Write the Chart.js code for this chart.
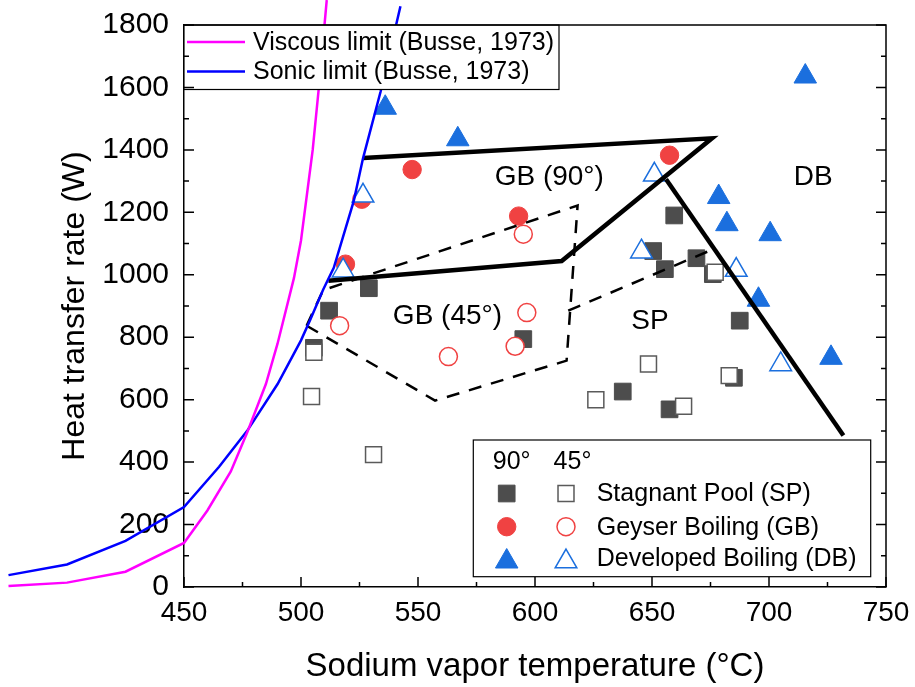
<!DOCTYPE html>
<html><head><meta charset="utf-8">
<script src="https://cdn.jsdelivr.net/npm/chart.js@4.4.1/dist/chart.umd.min.js"></script>
<style>html,body{margin:0;padding:0;background:#fff;}#wrap{width:915px;height:687px;position:relative;}</style>
</head><body><div id="wrap"><canvas id="c" width="915" height="687"></canvas></div>
<script>
// ---- axis ticks ----
const xTicks = [450, 500, 550, 600, 650, 700, 750];
const yTicks = [0, 200, 400, 600, 800, 1000, 1200, 1400, 1600, 1800];

// ---- Busse (1973) limits ----
const viscousT = [375, 400, 425, 450, 460, 470, 477, 485, 490, 497, 500, 505, 507.5, 511];
const viscousQ = [3, 14, 49, 141, 245, 370, 495, 650, 780, 990, 1110, 1400, 1590, 1880];
const sonicT = [375, 400, 425, 450, 465, 477, 490, 500, 504, 509.5, 514, 522.5, 526.5, 534, 542.5];
const sonicQ = [38, 72, 148, 256, 385, 500, 650, 790, 857, 953, 1022, 1235, 1373, 1586, 1860];

// ---- measured points ----
const sp90T = [512, 529, 505.5, 595, 659.5, 650.5, 655.5, 669, 676, 687.5, 685, 637.5, 657.5];
const sp90Q = [885, 957, 766, 794, 1190, 1076, 1018, 1053, 1002, 853, 670, 626, 569];
const sp45T = [505.5, 504.5, 531, 677, 648.5, 683, 626, 663.5];
const sp45Q = [752, 610, 424, 1008, 714, 677, 600, 579];
const gb90T = [547.5, 526, 593, 519, 657.5];
const gb90Q = [1337, 1242, 1188, 1034, 1383];
const gb45T = [595, 596.5, 516.5, 563, 591.5];
const gb45Q = [1130, 879, 837, 738, 771];
const db90T = [536, 567, 715.5, 678.5, 682, 700.5, 695.5, 726.5];
const db90Q = [1535, 1434, 1635, 1249, 1162, 1130, 920, 734];
const db45T = [526.5, 518, 651, 645.5, 686, 705];
const db45Q = [1253, 1013, 1320, 1074, 1015, 713];

// ---- regime boundaries ----
const gb90BoundT = [526.6, 675.6, 611.4, 511.7];
const gb90BoundQ = [1374, 1437, 1044, 981];
const dbBoundT = [656, 731.8];
const dbBoundQ = [1306, 485];
const gb45BoundT = [502.4, 509.5, 618.2, 613.5, 557.3, 502.4];
const gb45BoundQ = [837, 951, 1222, 725, 597, 837];
const spBoundT = [614.2, 676.2];
const spBoundQ = [885, 1082];

// ---- region labels ----
const regionNames = ['GB (90°)', 'DB', 'GB (45°)', 'SP'];
const regionT = [606.1, 718.9, 562.6, 649.1];
const regionQ = [1313, 1311, 866, 850];

const pts = (xs, ys) => xs.map((x, i) => ({x: x, y: ys[i]}));
const FONT = "'Liberation Sans', Arial, sans-serif";
const C_SP = '#4d4d4d', C_SP_O = '#5a5a5a', C_GB = '#f04242', C_DB = '#1b6fde';

function lineDs(label, data, color, width, dash, order) {
  return {label, data, showLine: true, borderColor: color, backgroundColor: color,
    borderWidth: width, borderDash: dash || [], pointRadius: 0, pointHoverRadius: 0, clip: false,
    tension: 0, order: order, borderJoinStyle: 'miter', borderCapStyle: 'butt'};
}
function ptDs(label, xs, ys, style, r, fill, border, bw, order) {
  return {label, data: pts(xs, ys), showLine: false, pointStyle: style, pointRadius: r, pointHoverRadius: r,
    backgroundColor: fill, borderColor: border, pointBorderWidth: bw, borderWidth: bw, order: order, clip: false};
}

// curves run past the left edge of the axes: listed high-to-low so every point is drawn
const datasets = [
  lineDs('Viscous limit (Busse, 1973)', pts(viscousT, viscousQ).reverse(), '#ff00ff', 2.5, null, 1),
  lineDs('Sonic limit (Busse, 1973)', pts(sonicT, sonicQ).reverse(), '#0000ff', 2.5, null, 1),
  lineDs('GB90 boundary', pts(gb90BoundT, gb90BoundQ), '#000', 4.5, null, 2),
  lineDs('DB boundary', pts(dbBoundT, dbBoundQ), '#000', 4.5, null, 2),
  lineDs('GB45 boundary', pts(gb45BoundT, gb45BoundQ), '#000', 2.5, [13, 10], 2),
  lineDs('SP45 boundary', pts(spBoundT, spBoundQ), '#000', 2.5, [13, 10], 2),
  ptDs('SP 90', sp90T, sp90Q, 'rect', 11.8, C_SP, C_SP, 1, 9),
  ptDs('GB 90', gb90T, gb90Q, 'circle', 9.2, C_GB, C_GB, 1, 8),
  ptDs('DB 90', db90T, db90Q, 'triangle', 13, C_DB, C_DB, 1, 7),
  ptDs('SP 45', sp45T, sp45Q, 'rect', 11.3, '#fff', C_SP_O, 1.5, 6),
  ptDs('GB 45', gb45T, gb45Q, 'circle', 9, '#fff', C_GB, 1.5, 5),
  ptDs('DB 45', db45T, db45Q, 'triangle', 12.5, '#fff', C_DB, 1.5, 4)
];

function drawMarker(ctx, style, r, fill, border, bw, x, y) {
  const opts = {pointStyle: style, radius: r, rotation: 0, borderWidth: bw};
  ctx.save();
  ctx.fillStyle = fill; ctx.strokeStyle = border; ctx.lineWidth = bw;
  Chart.helpers.drawPoint(ctx, opts, x, y);
  ctx.restore();
}

const decor = {
  id: 'decor',
  afterDraw(chart) {
    const ctx = chart.ctx, a = chart.chartArea;
    const xs = chart.scales.x, ys = chart.scales.y;
    ctx.save();
    // region labels
    ctx.fillStyle = '#000';
    ctx.font = '28px ' + FONT;
    ctx.textAlign = 'center'; ctx.textBaseline = 'middle';
    regionNames.forEach((t, i) => ctx.fillText(t, xs.getPixelForValue(regionT[i]), ys.getPixelForValue(regionQ[i])));

    // top-left legend
    const L1 = {l: a.left, t: a.top, r: 559, b: 89.5};
    ctx.fillStyle = '#fff';
    ctx.fillRect(L1.l, L1.t, L1.r - L1.l, L1.b - L1.t);
    ctx.strokeStyle = '#000'; ctx.lineWidth = 1.2;
    ctx.strokeRect(L1.l, L1.t, L1.r - L1.l, L1.b - L1.t);
    const lrow = [[datasets[0], 42], [datasets[1], 71.5]];
    ctx.font = '25px ' + FONT; ctx.textAlign = 'left'; ctx.textBaseline = 'middle';
    lrow.forEach(([ds, y]) => {
      ctx.strokeStyle = ds.borderColor; ctx.lineWidth = ds.borderWidth;
      ctx.beginPath(); ctx.moveTo(187, y); ctx.lineTo(245, y); ctx.stroke();
      ctx.fillStyle = '#000'; ctx.fillText(ds.label, 253, y + 1);
    });

    // bottom-right legend
    const L2 = {l: 473.3, t: 440, r: 870.7, b: 576.7};
    ctx.fillStyle = '#fff';
    ctx.fillRect(L2.l, L2.t, L2.r - L2.l, L2.b - L2.t);
    ctx.strokeStyle = '#000'; ctx.lineWidth = 1.2;
    ctx.strokeRect(L2.l, L2.t, L2.r - L2.l, L2.b - L2.t);
    ctx.fillStyle = '#000'; ctx.font = '25px ' + FONT; ctx.textAlign = 'center';
    ctx.fillText('90°', 511.7, 462);
    ctx.fillText('45°', 572.5, 462);
    const rows = [
      ['Stagnant Pool (SP)', datasets[6], datasets[9], 493.5],
      ['Geyser Boiling (GB)', datasets[7], datasets[10], 526.7],
      ['Developed Boiling (DB)', datasets[8], datasets[11], 558.5]
    ];
    rows.forEach(([txt, f, o, y]) => {
      const dy = f.pointStyle === 'triangle' ? 3 : 0;
      drawMarker(ctx, f.pointStyle, f.pointRadius, f.backgroundColor, f.borderColor, f.borderWidth, 506.7, y + dy);
      drawMarker(ctx, o.pointStyle, o.pointRadius, o.backgroundColor, o.borderColor, o.borderWidth, 566, y + dy);
      ctx.fillStyle = '#000'; ctx.textAlign = 'left';
      ctx.fillText(txt, 596.7, y + 1);
    });

    // frame (top & right)
    ctx.strokeStyle = '#000'; ctx.lineWidth = 1.5;
    ctx.beginPath();
    ctx.moveTo(a.left, a.top); ctx.lineTo(a.right, a.top); ctx.lineTo(a.right, a.bottom);
    ctx.stroke();

    // inward ticks
    ctx.lineWidth = 1.5;
    ctx.beginPath();
    yTicks.forEach((v, i) => {
      const p = ys.getPixelForValue(v);
      ctx.moveTo(a.left, p); ctx.lineTo(a.left + 10, p);
      ctx.moveTo(a.right, p); ctx.lineTo(a.right - 10, p);
      if (i < yTicks.length - 1) {
        const m = ys.getPixelForValue((v + yTicks[i + 1]) / 2);
        ctx.moveTo(a.left, m); ctx.lineTo(a.left + 5, m);
        ctx.moveTo(a.right, m); ctx.lineTo(a.right - 5, m);
      }
    });
    xTicks.forEach((v, i) => {
      const p = xs.getPixelForValue(v);
      ctx.moveTo(p, a.bottom); ctx.lineTo(p, a.bottom - 10);
      if (i < xTicks.length - 1) {
        const m = xs.getPixelForValue((v + xTicks[i + 1]) / 2);
        ctx.moveTo(m, a.bottom); ctx.lineTo(m, a.bottom - 5);
      }
    });
    ctx.stroke();
    ctx.restore();
  }
};

new Chart(document.getElementById('c'), {
  type: 'scatter',
  data: {datasets},
  options: {
    responsive: false, animation: false, devicePixelRatio: 1,
    layout: {padding: {left: 0, right: 29, top: 23, bottom: 0}},
    plugins: {legend: {display: false}, tooltip: {enabled: false}},
    scales: {
      x: {
        type: 'linear', min: 450, max: 750,
        afterBuildTicks: s => { s.ticks = xTicks.map(v => ({value: v})); },
        afterFit: s => { s.height = 100; },
        grid: {display: false},
        border: {display: true, color: '#000', width: 1.5},
        ticks: {color: '#000', font: {family: FONT, size: 28}, padding: 1, maxRotation: 0, autoSkip: false,
                callback: v => String(v)},
        title: {display: true, text: 'Sodium vapor temperature (°C)', color: '#000', font: {family: FONT, size: 33}, padding: {top: 0, bottom: 0}}
      },
      y: {
        type: 'linear', min: 0, max: 1800,
        afterBuildTicks: s => { s.ticks = yTicks.map(v => ({value: v})); },
        afterFit: s => { s.width = 184; },
        grid: {display: false},
        border: {display: true, color: '#000', width: 1.5},
        ticks: {color: '#000', font: {family: FONT, size: 30}, padding: 7, autoSkip: false,
                callback: v => String(v)},
        title: {display: true, text: 'Heat transfer rate (W)', color: '#000', font: {family: FONT, size: 32}, padding: {top: 56, bottom: 0}}
      }
    }
  },
  plugins: [decor]
});
</script>
</body></html>
